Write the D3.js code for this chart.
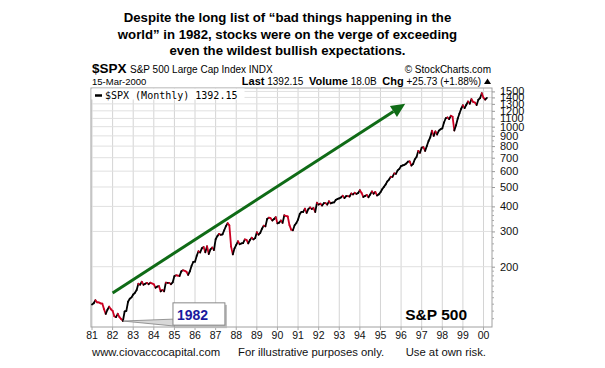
<!DOCTYPE html>
<html><head><meta charset="utf-8">
<script src="https://cdn.jsdelivr.net/npm/d3@7"></script>
<style>body{margin:0;background:#fff}svg{display:block}</style>
</head><body>
<svg id="c" width="605" height="368"></svg>
<script>
const titleLines = ["Despite the long list of \u201cbad things happening in the",
  "world\u201d in 1982, stocks were on the verge of exceeding",
  "even the wildest bullish expectations."];
const startYear = 1981;
const years = ["81","82","83","84","85","86","87","88","89","90","91","92","93","94","95","96","97","98","99","00"];
const yTicks = [200,300,400,500,600,700,800,900,1000,1100,1200,1300,1400,1500];
const yMinor = [110,120,130,140,150,160,170,180,190,220,240,260,280,320,340,360,380,450,550,650,750,850,950];
// monthly closes Jan 1981 .. Mar 2000
const closes = [
129.6,131.3,136.0,132.8,132.6,131.2,130.9,122.8,116.2,121.9,126.4,122.6,
120.4,113.1,112.0,116.4,111.9,109.6,107.1,119.5,120.4,133.7,138.5,140.6,
145.3,148.1,153.0,164.4,162.4,168.1,162.6,164.4,166.1,163.6,166.4,164.9,
163.4,157.1,159.2,160.1,150.6,153.2,150.7,166.7,166.1,166.1,163.6,167.2,
179.6,181.2,180.7,179.8,189.6,191.9,190.9,188.6,182.1,189.8,202.2,211.3,
211.8,226.9,238.9,235.5,247.4,250.8,236.1,252.9,231.3,244.0,249.2,242.2,
274.1,284.2,291.7,288.4,290.1,304.0,318.7,329.8,321.8,251.8,230.3,247.1,
257.1,267.8,258.9,261.3,262.2,273.5,272.0,261.5,271.9,279.0,273.7,277.7,
297.5,288.9,294.9,309.6,320.5,318.0,346.1,351.5,349.2,340.4,346.0,353.4,
329.1,331.9,339.9,330.8,361.2,358.0,356.2,322.6,306.1,304.0,322.2,330.2,
343.9,367.1,375.2,375.3,389.8,371.2,387.8,395.4,387.9,392.5,375.2,417.1,
408.8,412.7,403.7,415.0,415.4,408.1,424.2,414.0,417.8,418.7,431.4,435.7,
438.8,443.4,451.7,440.2,450.2,450.5,448.1,463.6,458.9,467.8,461.8,466.5,
481.6,467.1,445.8,450.9,456.5,444.3,458.3,475.5,462.7,472.4,453.7,459.3,
470.4,487.4,500.7,514.7,533.4,544.8,562.1,561.9,584.4,581.5,605.4,615.9,
636.0,640.4,645.5,654.2,669.1,670.6,640.0,652.0,687.3,705.3,757.0,740.7,
786.2,790.8,757.1,801.3,848.3,885.1,954.3,899.5,947.3,914.6,955.4,970.4,
980.3,1049.3,1101.8,1111.8,1090.8,1133.8,1120.7,957.3,1017.0,1098.7,1163.6,1229.2,
1279.6,1238.3,1286.4,1335.2,1301.8,1372.7,1328.7,1320.4,1282.7,1362.9,1388.9,1469.3,
1394.5,1366.4,1392.2];
// annotation anchors in data terms (decimal year, value)
const arrowPts = [[1982.0,148],[1996.2,1300]];
const calloutYears = [1984.93, 1987.45];
const calloutVals = [132, 101];
const footer = ["www.ciovaccocapital.com","For illustrative purposes only.","Use at own risk."];

const svg = d3.select("#c");
const F = "Liberation Sans, Arial, sans-serif";
const L = 91, R = 492, T = 88, B = 327;
const x = d3.scaleLinear().domain([1981, 2000]).range([92, 483.5]);
const y = d3.scaleLog().domain([100, 1560]).range([B, T]);
const data = closes.map((v,i)=>({t: startYear + i/12, v}));

// title
svg.append("g").selectAll("text").data(titleLines).join("text")
  .attr("x", 287.5).attr("y",(d,i)=>22+i*16.7).attr("text-anchor","middle")
  .attr("font-family",F).attr("font-weight","bold").attr("font-size",13.2).text(d=>d);

// header
svg.append("text").attr("x",92).attr("y",73).attr("font-family",F).attr("font-weight","bold")
  .attr("font-size",13.5).text("$SPX");
svg.append("text").attr("x",130).attr("y",73).attr("font-family",F).attr("font-size",10)
  .text("S&P 500 Large Cap Index INDX");
svg.append("text").attr("x",92).attr("y",84.5).attr("font-family",F).attr("font-size",9.5)
  .text("15-Mar-2000");
svg.append("text").attr("x",491).attr("y",73).attr("text-anchor","end").attr("font-family",F)
  .attr("font-size",10).text("\u00a9 StockCharts.com");
const hdr = svg.append("text").attr("x",481).attr("y",84.5).attr("text-anchor","end")
  .attr("font-family",F).attr("font-size",10);
[["Last",1],[" 1392.15  ",0],["Volume",1],[" 18.0B  ",0],["Chg",1],[" +25.73 (+1.88%)",0]]
  .forEach(([s,b])=>hdr.append("tspan").attr("font-weight",b?"bold":"normal")
    .attr("font-size",b?11:10).attr("xml:space","preserve").text(s));
svg.append("path").attr("d","M484,84 L487.5,78.5 L491,84 Z").attr("fill","#000");

// grid
const g = svg.append("g");
g.selectAll("line.v").data(d3.range(1981,2001)).join("line")
  .attr("x1",d=>x(d)).attr("x2",d=>x(d)).attr("y1",T).attr("y2",B)
  .attr("stroke","#d4d4d4").attr("stroke-width",1);
g.selectAll("line.h").data(yTicks).join("line")
  .attr("x1",L).attr("x2",R).attr("y1",d=>y(d)).attr("y2",d=>y(d))
  .attr("stroke","#e0e0e0").attr("stroke-width",1);
g.append("rect").attr("x",L).attr("y",T).attr("width",R-L).attr("height",B-T)
  .attr("fill","none").attr("stroke","#a0a0a0");

// legend
svg.append("rect").attr("x",L+0.5).attr("y",T+0.5).attr("width",153).attr("height",11).attr("fill","#fff");
svg.append("line").attr("x1",95).attr("x2",102).attr("y1",95.5).attr("y2",95.5).attr("stroke","#000").attr("stroke-width",2.5);
svg.append("text").attr("x",105).attr("y",98.5).attr("font-family","DejaVu Sans Mono, monospace")
  .attr("font-size",10).text("$SPX (Monthly) 1392.15");

// x axis labels
svg.append("g").selectAll("text").data(years).join("text")
  .attr("x",(d,i)=>x(1981+i)).attr("y",339).attr("text-anchor","middle")
  .attr("font-family",F).attr("font-size",10.5).attr("fill","#111").text(d=>d);
svg.append("g").selectAll("line").data(d3.range(1981,2001)).join("line")
  .attr("x1",d=>x(d)).attr("x2",d=>x(d)).attr("y1",B).attr("y2",B+3).attr("stroke","#aaa");

// y axis
const ya = svg.append("g").attr("transform",`translate(${R},0)`)
  .call(d3.axisRight(y).tickValues(yTicks).tickFormat(d3.format("d")).tickSize(3).tickPadding(5));
ya.select(".domain").remove();
ya.selectAll("line").attr("stroke","#999");
ya.selectAll("text").attr("font-family",F).attr("font-size",11).attr("fill","#111");
svg.append("g").selectAll("line").data(yMinor).join("line")
  .attr("x1",R).attr("x2",R+2).attr("y1",d=>y(d)).attr("y2",d=>y(d)).attr("stroke","#aaa");

// price line, coloured by direction
const segs = d3.pairs(data);
svg.append("g").selectAll("line").data(segs).join("line")
  .attr("x1",d=>x(d[0].t)).attr("y1",d=>y(d[0].v)).attr("x2",d=>x(d[1].t)).attr("y2",d=>y(d[1].v))
  .attr("stroke",d=>d[1].v<d[0].v?"#cc0022":"#000").attr("stroke-width",1.8).attr("stroke-linecap","round");

// green arrow
const [a0,a1] = arrowPts.map(p=>[x(p[0]),y(p[1])]);
const ang = Math.atan2(a1[1]-a0[1],a1[0]-a0[0]);
const hl = 14, hw = 6.5;
const bx = a1[0]-hl*Math.cos(ang), by = a1[1]-hl*Math.sin(ang);
svg.append("line").attr("x1",a0[0]).attr("y1",a0[1]).attr("x2",bx).attr("y2",by)
  .attr("stroke","#0f6b16").attr("stroke-width",3);
svg.append("path").attr("d",`M${a1[0]},${a1[1]} L${bx+hw*Math.sin(ang)},${by-hw*Math.cos(ang)} L${bx-hw*Math.sin(ang)},${by+hw*Math.cos(ang)} Z`)
  .attr("fill","#0f6b16");

// callout
const low = data.reduce((m,d)=>d.v<m.v?d:m);
const cx0 = x(calloutYears[0]), cx1 = x(calloutYears[1]), cy0 = y(calloutVals[0]), cy1 = y(calloutVals[1]);
svg.append("path").attr("d",`M${x(low.t)},${y(low.v)} L${cx0},${cy1-7} L${cx0+2},${cy1} Z`)
  .attr("fill","#d8d8d8").attr("stroke","#808080").attr("stroke-width",0.8);
svg.append("rect").attr("x",cx0+2).attr("y",cy0+2).attr("width",cx1-cx0).attr("height",cy1-cy0)
  .attr("fill","#bbb");
svg.append("rect").attr("x",cx0).attr("y",cy0).attr("width",cx1-cx0).attr("height",cy1-cy0-1)
  .attr("fill","#fff").attr("stroke","#888");
svg.append("text").attr("x",cx0+4).attr("y",cy1-6).attr("font-family",F).attr("font-weight","bold")
  .attr("font-size",14).attr("fill","#1a1a9e").text("1982");

// S&P 500 label
svg.append("text").attr("x",x(1999.2)).attr("y",y(108)).attr("text-anchor","end")
  .attr("font-family",F).attr("font-weight","bold").attr("font-size",15.5).text("S&P 500");

// footer
svg.append("g").selectAll("text").data(footer).join("text")
  .attr("x",(d,i)=>[92,238,486][i]).attr("y",356).attr("text-anchor",(d,i)=>i==2?"end":"start")
  .attr("font-family",F).attr("font-size",11.3).attr("fill","#111").text(d=>d);
</script>
</body></html>
